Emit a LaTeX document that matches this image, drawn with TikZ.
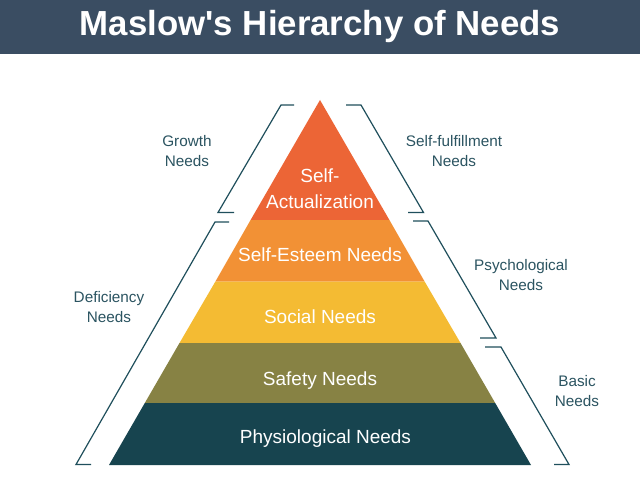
\documentclass[tikz,border=0pt]{standalone}
\usepackage{fontspec}
\setmainfont{Liberation Sans}
\definecolor{titlebg}{HTML}{3A4D62}
\definecolor{lvlA}{HTML}{EC6536}
\definecolor{lvlB}{HTML}{F29135}
\definecolor{lvlC}{HTML}{F4BB33}
\definecolor{lvlD}{HTML}{878244}
\definecolor{lvlE}{HTML}{17444F}
\definecolor{brk}{HTML}{1F4F5C}
\definecolor{lbl}{HTML}{2B5461}
\tikzset{
  layertext/.style={text=white,font=\fontsize{19}{25}\selectfont,align=center,inner sep=0pt,anchor=base},
  sidetext/.style={text=lbl,font=\fontsize{15.3}{20}\selectfont,align=center,inner sep=0pt},
  bracket/.style={draw=brk,line width=1.2pt,line join=miter}
}
\begin{document}
\begin{tikzpicture}[x=1pt,y=-1pt]
\useasboundingbox (0,0) rectangle (640,500);
\fill[white] (0,0) rectangle (640,500);
% title
\fill[titlebg] (0,0) rectangle (640,54.5);
\node[text=white,font=\bfseries\fontsize{34.8}{40}\selectfont,inner sep=0pt] (title) at (320,27) {Maslow\textquotesingle s Hierarchy of Needs};
% layers
\fill[lvlA] (320,100) -- (389.4,220) -- (250.6,220) -- cycle;
\fill[lvlB] (250.6,220) -- (389.4,220) -- (424.6,281.5) -- (215.4,281.5) -- cycle;
\fill[lvlC] (215.4,281.5) -- (424.6,281.5) -- (460.5,343) -- (179.5,343) -- cycle;
\fill[lvlD] (179.5,343) -- (460.5,343) -- (495.2,403) -- (144.8,403) -- cycle;
\fill[lvlE] (144.8,403) -- (495.2,403) -- (531,465) -- (109,465) -- cycle;
% layer labels
\node[layertext] (sa1) at (320,182.5) {Self-};
\node[layertext] (sa2) at (320,208.5) {Actualization};
\node[layertext] (se) at (320,261.5) {Self-Esteem Needs};
\node[layertext] (so) at (320,323.5) {Social Needs};
\node[layertext] (sf) at (320,385) {Safety Needs};
\node[layertext] (ph) at (325.5,443) {Physiological Needs};
% brackets
\draw[bracket] (294,105) -- (281,105) -- (218,212.5) -- (234,212.5);
\draw[bracket] (346,105) -- (361,105) -- (423.5,212.5) -- (408,212.5);
\draw[bracket] (413,221) -- (428,221) -- (496,338) -- (480,338);
\draw[bracket] (485,347) -- (501,347) -- (569,464.5) -- (554,464.5);
\draw[bracket] (229,222) -- (215,222) -- (76,464.5) -- (91,464.5);
% side labels
\node[sidetext] (growth) at (187,151) {Growth\\Needs};
\node[sidetext] (fulfil) at (454,151) {Self-fulfillment\\Needs};
\node[sidetext] (psych) at (521,275) {Psychological\\Needs};
\node[sidetext] (defic) at (109,307) {Deficiency\\Needs};
\node[sidetext] (basic) at (577,391) {Basic\\Needs};
\end{tikzpicture}
\end{document}
